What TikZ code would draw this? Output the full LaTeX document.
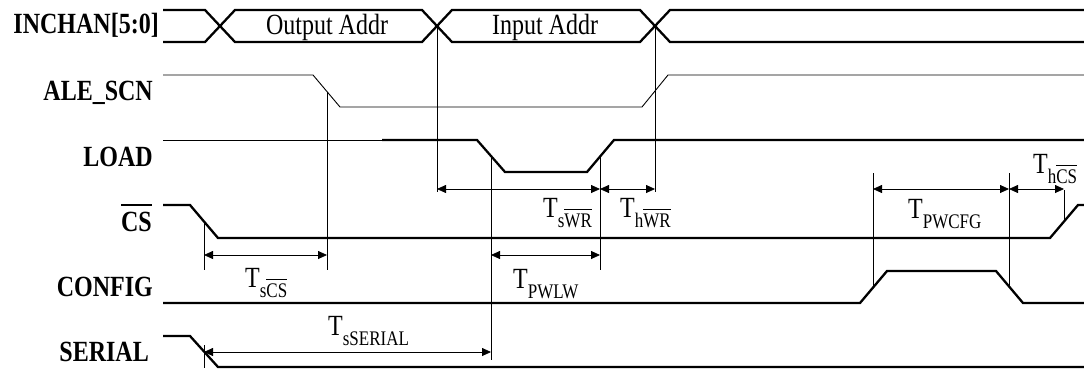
\documentclass[tikz,border=0pt]{standalone}
\usepackage{fontspec}
\usepackage{graphicx}
\setmainfont{Liberation Serif}
\usetikzlibrary{arrows.meta}

% text is set a little taller than wide
\newcommand{\tall}[1]{\scalebox{1}[1.22]{#1}}
% bar over an active-low name
\newcommand{\ovl}[1]{\vbox{\hrule height 0.07em\kern 0.2em\hbox{#1}}}
% T with a lowered subscript
\newcommand{\tparam}[1]{\tall{T\raisebox{-9pt}{\fontsize{17}{17}\selectfont #1}}}

\begin{document}
\begin{tikzpicture}[
    x=1pt, y=-1pt,
    sig/.style={line width=2.3pt, line join=miter},
    wire/.style={line width=0.9pt},
    guide/.style={line width=0.8pt},
    dimline/.style={{Triangle[length=9pt,width=8pt]}-{Triangle[length=9pt,width=8pt]}, line width=0.8pt},
    signame/.style={font=\fontsize{24}{28}\selectfont\bfseries, anchor=base east, inner sep=0pt},
    timelab/.style={font=\fontsize{24}{28}\selectfont, anchor=base west, inner sep=0pt}
]
\useasboundingbox (0,0) rectangle (1084,368);

% Signal names
\node[signame] (inchan) at (159,33)  {\tall{INCHAN[5:0]}};
\node[signame] (ale)    at (153,100) {\tall{ALE\_SCN}};
\node[signame] (load)   at (153,166) {\tall{LOAD}};
\node[signame] (cs)     at (152,231) {\tall{\ovl{CS}}};
\node[signame] (config) at (153,296) {\tall{CONFIG}};
\node[signame] (serial) at (149,361) {\tall{SERIAL}};

% Bus
\draw[sig] (163,10) -- (205,10) -- (235,42) -- (422,42) -- (452,10) -- (640,10) -- (670,42) -- (1084,42);
\draw[sig] (163,42) -- (205,42) -- (235,10) -- (422,10) -- (452,42) -- (640,42) -- (670,10) -- (1084,10);
\node[timelab, anchor=base] (outaddr) at (327,34) {\tall{Output Addr}};
\node[timelab, anchor=base] (inaddr)  at (545,34) {\tall{Input Addr}};

% Waveforms
\draw[wire] (163,75) -- (313,75) -- (340,107) -- (642,107) -- (668,75) -- (1084,75);
\draw[wire] (163,140) -- (382,140);
\draw[sig] (382,140) -- (477,140) -- (505,172) -- (587,172) -- (614,140) -- (1084,140);
\draw[sig] (163,205) -- (190,205) -- (218,238) -- (1050,238) -- (1078,205) -- (1084,205);
\draw[sig] (163,303) -- (860,303) -- (887,271) -- (996,271) -- (1023,303) -- (1084,303);
\draw[sig] (163,336) -- (190,336) -- (218,367) -- (1084,367);

% Edge markers
\coordinate (csfall)  at (204,221);
\coordinate (serfall) at (204,345);
\coordinate (alefall) at (327,92);
\coordinate (adrin)   at (437,26);
\coordinate (ldfall)  at (491,156);
\coordinate (ldrise)  at (600,156);
\coordinate (adrout)  at (655,26);
\coordinate (cfgrise) at (873,287);
\coordinate (cfgfall) at (1009,287);
\coordinate (csrise)  at (1064,221);

% Guides
\draw[guide] (csfall) -- (csfall |- 0,270);
\draw[guide] (serfall) -- (serfall |- 0,368);
\draw[guide] (alefall) -- (alefall |- 0,270);
\draw[guide] (adrin) -- (adrin |- 0,192);
\draw[guide] (adrout) -- (adrout |- 0,192);
\draw[guide] (ldfall) -- (ldfall |- 0,360);
\draw[guide] (ldrise) -- (ldrise |- 0,270);
\draw[guide] (cfgrise) -- (cfgrise |- 0,173);
\draw[guide] (cfgfall) -- (cfgfall |- 0,173);
\draw[guide] (csrise) -- (csrise |- 0,190);

% Arrows
\draw[dimline] (adrin |- 0,189) -- (ldrise |- 0,189);
\draw[dimline] (ldrise |- 0,189) -- (adrout |- 0,189);
\draw[dimline] (csfall |- 0,255) -- (alefall |- 0,255);
\draw[dimline] (ldfall |- 0,255) -- (ldrise |- 0,255);
\draw[dimline] (serfall |- 0,352) -- (ldfall |- 0,352);
\draw[dimline] (cfgrise |- 0,189) -- (cfgfall |- 0,189);
\draw[dimline] (cfgfall |- 0,189) -- (csrise |- 0,189);

% Labels
\node[timelab] (tswr)    at (543,217)  {\tparam{s\ovl{WR}}};
\node[timelab] (thwr)    at (620,217)  {\tparam{h\ovl{WR}}};
\node[timelab] (tscs)    at (245,287)  {\tparam{s\ovl{CS}}};
\node[timelab] (tpwlw)   at (513,288)  {\tparam{PWLW}};
\node[timelab] (tserial) at (328,335)  {\tparam{sSERIAL}};
\node[timelab] (tpwcfg)  at (908,218)  {\tparam{PWCFG}};
\node[timelab] (thcs)    at (1033,173) {\tparam{h\ovl{CS}}};

\end{tikzpicture}
\end{document}
